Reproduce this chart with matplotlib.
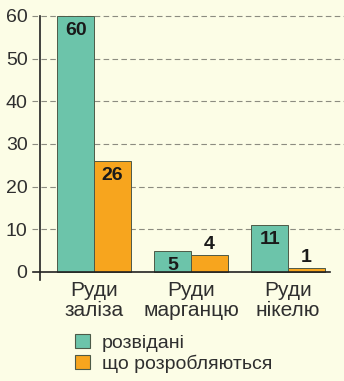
import matplotlib.pyplot as plt
from matplotlib.patches import Rectangle

# Запаси руд (розвідані / що розробляються)
categories = ["Руди\nзаліза", "Руди\nмарганцю", "Руди\nнікелю"]
explored = [60, 5, 11]
developed = [26, 4, 1]
yticks = [0, 10, 20, 30, 40, 50, 60]
series_names = ["розвідані", "що розробляються"]

BG = "#fcfde6"
TEAL = "#6cc4aa"
ORANGE = "#f7a51e"
EDGE = "#4d5a48"
TEXT = "#2f2f2f"

plt.rcParams["font.family"] = ["Liberation Sans", "DejaVu Sans"]

W, H = 344, 381
fig = plt.figure(figsize=(W / 100, H / 100), dpi=100, facecolor=BG)
ax = fig.add_axes([40 / W, (H - 280) / H, 304 / W, 264 / H], facecolor=BG)

x = list(range(len(categories)))
width = 0.38

ax.set_xlim(-0.557, 2.577)
ax.set_ylim(-1.9, 60)

# пунктирна сітка, що трохи виходить за вісь ліворуч
for v in yticks[1:]:
    ax.axhline(v, xmin=-8 / 304, xmax=1, color="#8c8c80", lw=0.8,
               dashes=(5, 3), clip_on=False, zorder=1)

bars_e = ax.bar([i - width / 2 for i in x], explored, width=width,
                color=TEAL, edgecolor=EDGE, lw=0.7, zorder=2)
bars_d = ax.bar([i + width / 2 for i in x], developed, width=width,
                color=ORANGE, edgecolor=EDGE, lw=0.7, zorder=2)

ax.axhline(0, xmin=-7 / 304, xmax=290 / 304, color="#222222", lw=1.2,
           clip_on=False, zorder=3)

# підписи значень: всередині стовпця, або над ним, якщо стовпець низький
for bars, vals in ((bars_e, explored), (bars_d, developed)):
    for b, v in zip(bars, vals):
        cx = b.get_x() + b.get_width() / 2
        if v >= 5:
            ax.annotate(str(v), (cx, v), xytext=(0, -4.5), textcoords="offset points",
                        ha="center", va="top", fontsize=14, fontweight="bold",
                        color="#1a1a1a", zorder=4)
        else:
            ax.annotate(str(v), (cx, v), xytext=(0, 1.5), textcoords="offset points",
                        ha="center", va="bottom", fontsize=14, fontweight="bold",
                        color="#1a1a1a", zorder=4)

for s in ("top", "right", "bottom"):
    ax.spines[s].set_visible(False)
ax.spines["left"].set_color("#222222")
ax.spines["left"].set_linewidth(1.2)

ax.set_yticks(yticks)
ax.tick_params(axis="y", length=0, pad=9, labelsize=14, labelcolor=TEXT)
ax.set_xticks(x)
ax.set_xticklabels(categories, fontsize=15, color=TEXT, linespacing=1.05)
ax.tick_params(axis="x", length=0, pad=1)

# легенда
for k, (name, col) in enumerate(zip(series_names, [TEAL, ORANGE])):
    bottom = 348 + k * 21
    fig.add_artist(Rectangle((75 / W, (H - bottom) / H), 15 / W, 14 / H,
                             facecolor=col, edgecolor=EDGE, lw=0.8,
                             transform=fig.transFigure))
    fig.text(102 / W, (H - bottom) / H, name, fontsize=14, color=TEXT,
             va="baseline", ha="left")

fig.savefig("out.png", dpi=100, facecolor=BG)
